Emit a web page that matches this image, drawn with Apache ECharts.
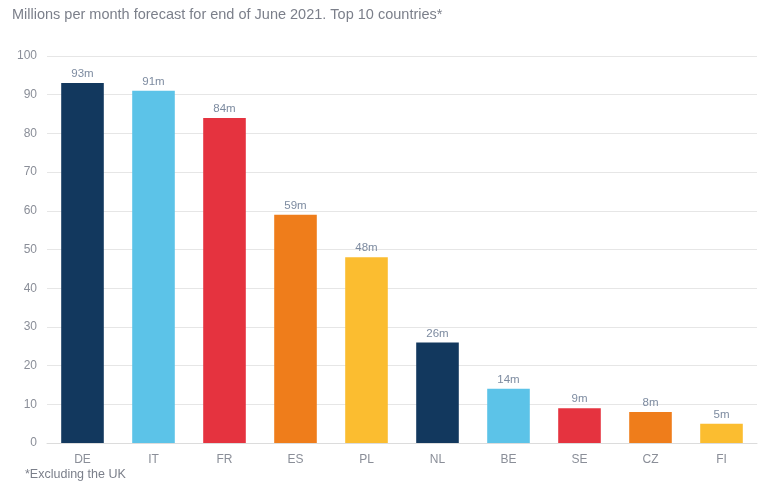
<!DOCTYPE html>
<html>
<head>
<meta charset="utf-8">
<script src="https://cdn.jsdelivr.net/npm/echarts@6/dist/echarts.min.js"></script>
<style>
  html, body { margin: 0; padding: 0; background: #fff; }
  #chart { width: 765px; height: 485px; }
</style>
</head>
<body>
<div id="chart"></div>
<script>
// Monthly volume forecast (millions) per country
const countries = ['DE', 'IT', 'FR', 'ES', 'PL', 'NL', 'BE', 'SE', 'CZ', 'FI'];
const millions = [93, 91, 84, 59, 48, 26, 14, 9, 8, 5];
const barColors = ['#12385e', '#5cc3e8', '#e5333f', '#ef7d1b', '#fbbd30',
                   '#12385e', '#5cc3e8', '#e5333f', '#ef7d1b', '#fbbd30'];

const chart = echarts.init(document.getElementById('chart'));
chart.setOption({
  animation: false,
  textStyle: { fontFamily: 'Liberation Sans, Arial, sans-serif' },
  title: [
    {
      text: 'Millions per month forecast for end of June 2021. Top 10 countries*',
      left: 12, top: 7, padding: 0,
      textStyle: { fontSize: 14.5, fontWeight: 'normal', color: '#7b7f8a' }
    },
    {
      text: '*Excluding the UK',
      left: 25, top: 468, padding: 0,
      textStyle: { fontSize: 12.5, fontWeight: 'normal', color: '#7b7f8a' }
    }
  ],
  grid: { left: 47, right: 8, top: 56, bottom: 42 },
  xAxis: {
    type: 'category',
    data: countries,
    axisTick: { show: false },
    axisLine: { lineStyle: { color: '#dcdcdc' } },
    axisLabel: { color: '#8a8e98', fontSize: 12, margin: 11 }
  },
  yAxis: {
    type: 'value',
    min: 0, max: 100, interval: 10,
    axisLine: { show: false },
    axisTick: { show: false },
    splitLine: { lineStyle: { color: '#e6e6e6' } },
    axisLabel: { color: '#8a8e98', fontSize: 12, margin: 10 }
  },
  series: [{
    type: 'bar',
    data: millions.map((v, i) => ({ value: v, itemStyle: { color: barColors[i] } })),
    barCategoryGap: '40%',
    label: {
      show: true,
      position: 'top',
      distance: 3,
      formatter: p => p.value + 'm',
      color: '#7d8ba0',
      fontSize: 11.5
    }
  }]
});
</script>
</body>
</html>
